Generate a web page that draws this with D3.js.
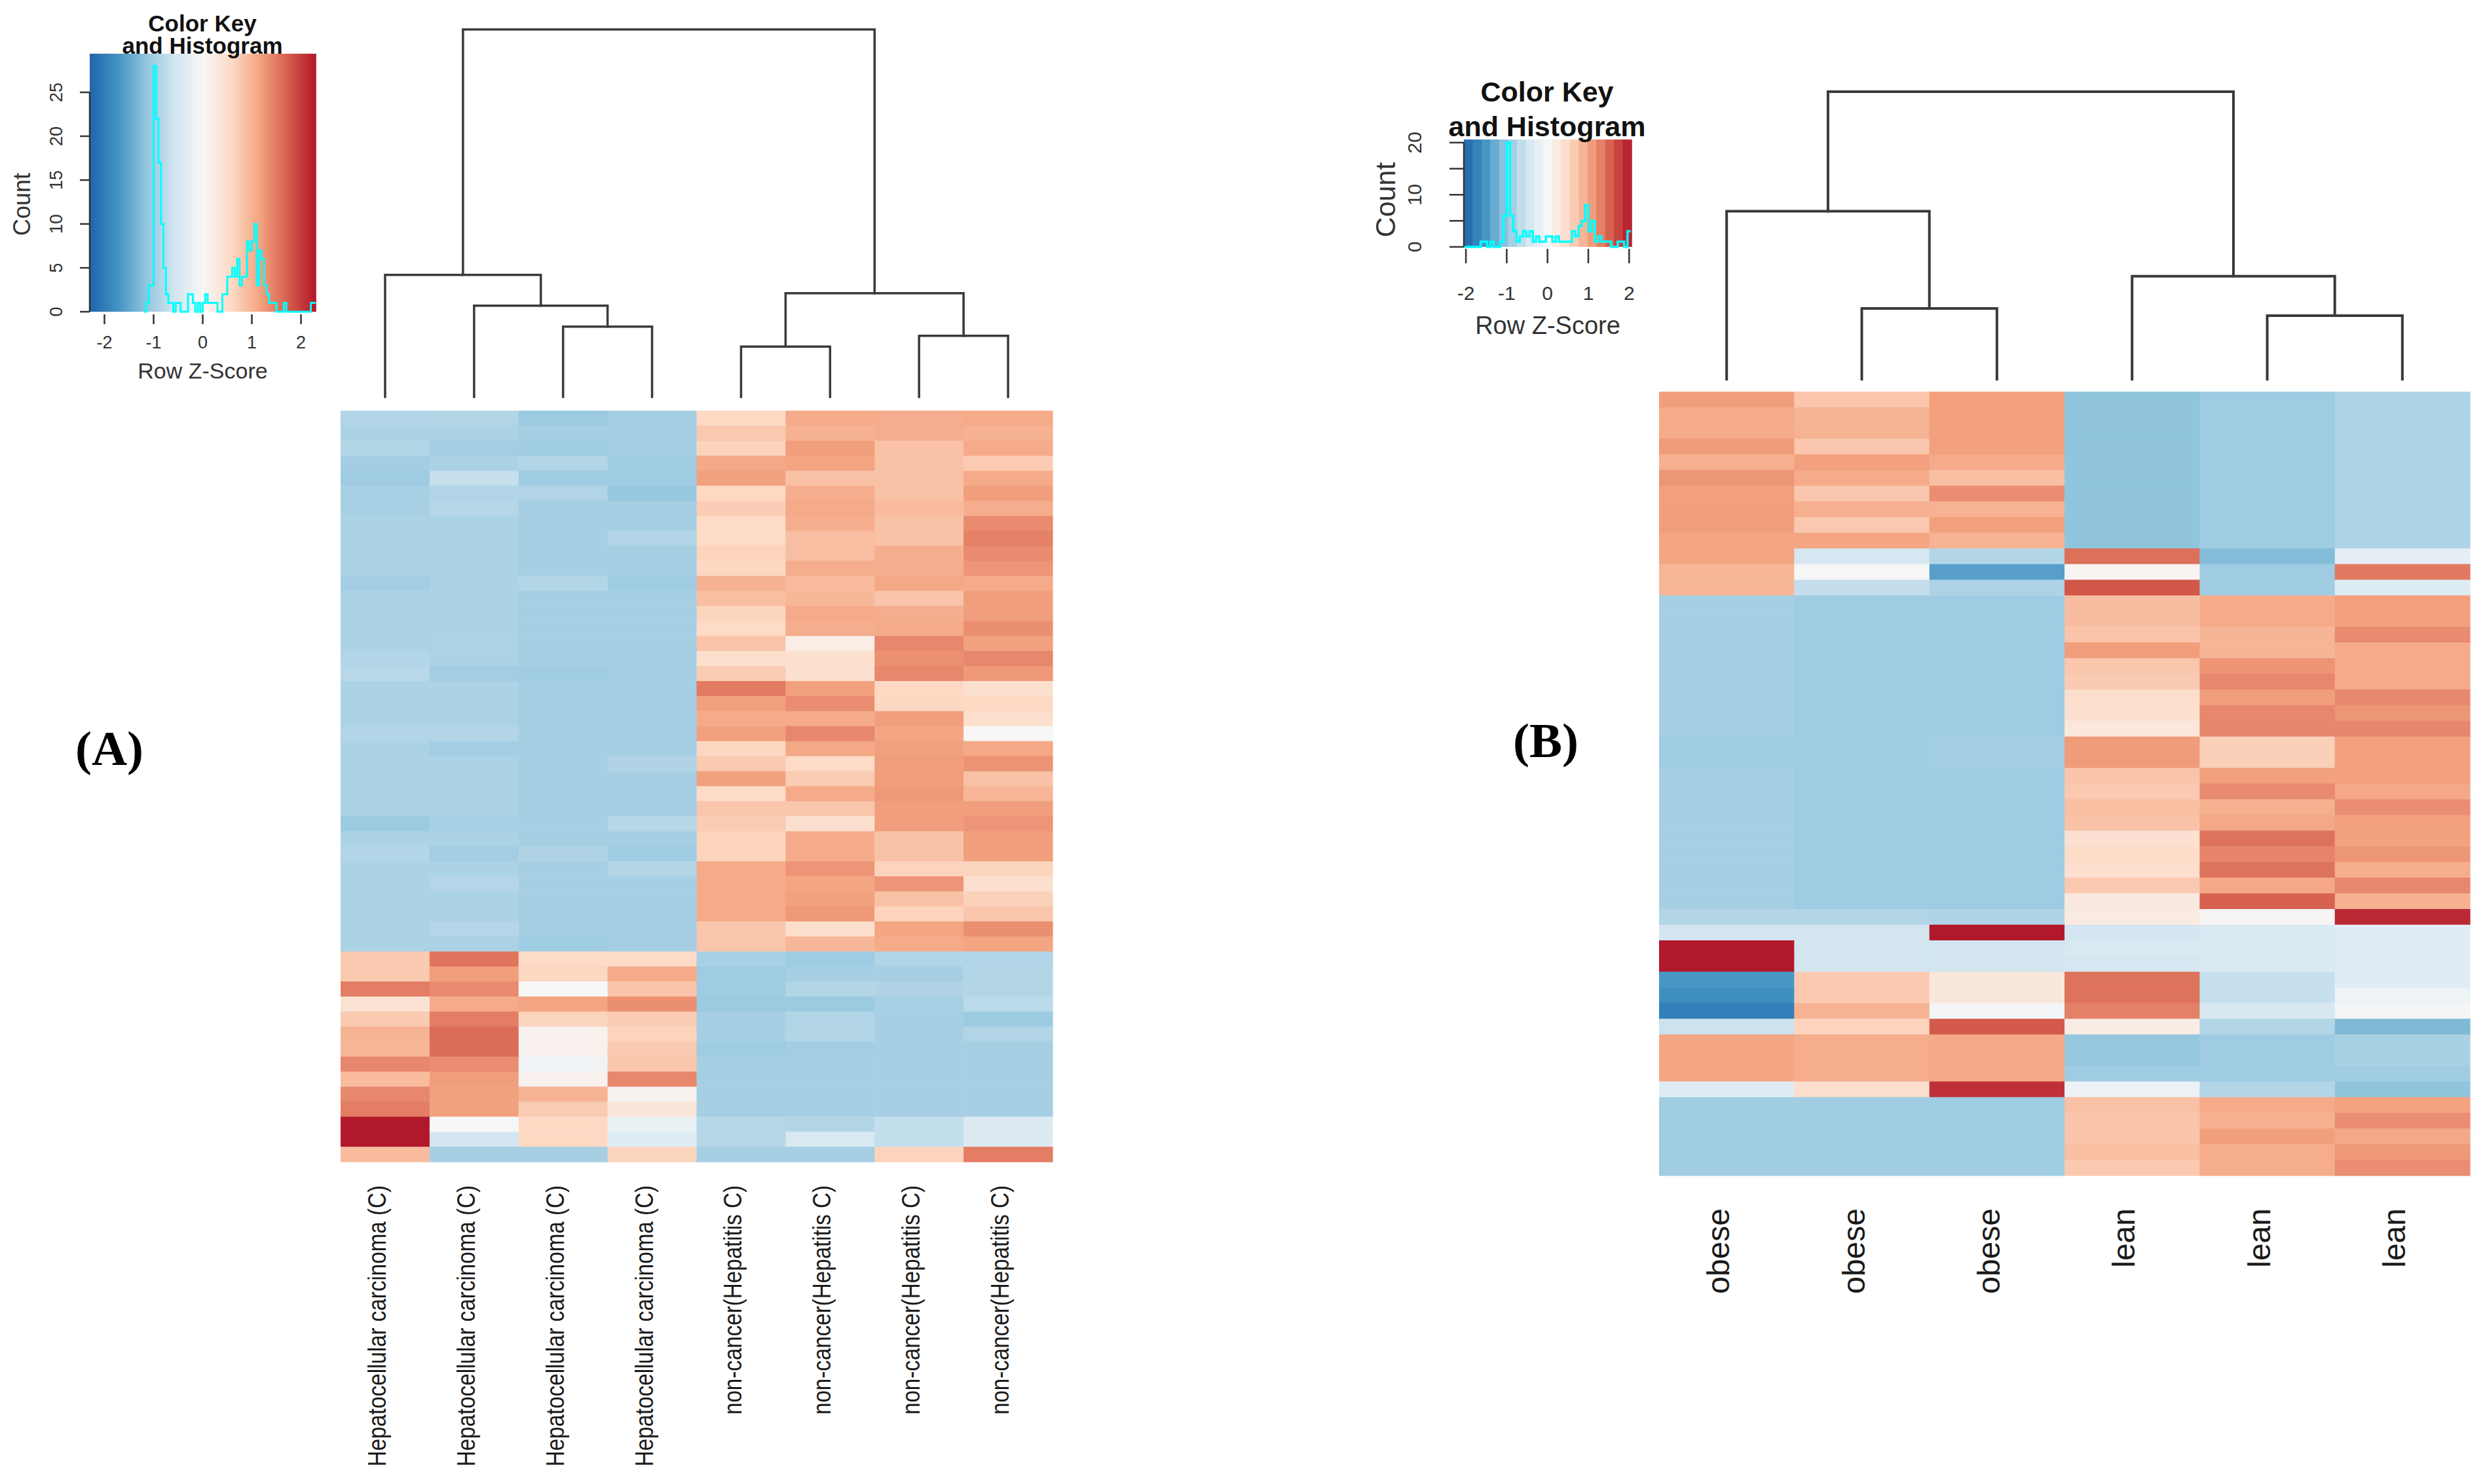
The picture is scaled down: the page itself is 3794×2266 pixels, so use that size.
<!DOCTYPE html>
<html>
<head>
<meta charset="utf-8">
<script src="https://cdn.jsdelivr.net/npm/d3@7"></script>
<style>
  body { margin: 0; background: #fff; }
  text { font-family: "Liberation Sans", Arial, sans-serif; fill: #1a1a1a; }
</style>
</head>
<body>
<div class="canva"></div>
<script>
// ---------------- data ----------------

// panel A columns
const colsA = [
  "Hepatocellular carcinoma (C)", "Hepatocellular carcinoma (C)",
  "Hepatocellular carcinoma (C)", "Hepatocellular carcinoma (C)",
  "non-cancer(Hepatitis C)", "non-cancer(Hepatitis C)",
  "non-cancer(Hepatitis C)", "non-cancer(Hepatitis C)"
];

// panel A row z-scores (50 rows x 8 columns, top to bottom)
const zA = [
  [-0.87,-0.85,-1.06,-0.97, 0.60,1.09,1.06,1.10],
  [-0.92,-0.92,-0.97,-0.97, 0.78,1.02,1.06,1.02],
  [-0.85,-1.00,-1.03,-0.97, 0.66,1.21,0.85,1.09],
  [-1.00,-0.92,-0.85,-1.03, 1.12,1.15,0.85,0.75],
  [-1.03,-0.68,-1.03,-1.03, 1.18,0.85,0.85,1.09],
  [-0.95,-0.87,-0.87,-1.10, 0.60,1.06,0.85,1.21],
  [-0.95,-0.82,-0.97,-0.97, 0.72,1.09,0.92,1.06],
  [-0.92,-0.92,-0.97,-0.97, 0.58,1.06,0.85,1.37],
  [-0.92,-0.92,-0.97,-0.87, 0.58,0.88,0.85,1.45],
  [-0.92,-0.92,-0.97,-0.97, 0.66,0.88,1.06,1.37],
  [-0.92,-0.92,-0.97,-0.97, 0.60,1.06,1.06,1.28],
  [-1.00,-0.92,-0.85,-1.03, 1.02,0.92,1.12,1.09],
  [-0.92,-0.92,-0.97,-0.97, 0.88,0.95,0.82,1.21],
  [-0.92,-0.92,-0.97,-0.97, 0.64,1.09,1.06,1.21],
  [-0.92,-0.92,-0.97,-0.97, 0.58,1.06,1.09,1.33],
  [-0.92,-0.90,-0.97,-0.97, 0.82,0.20,1.40,1.18],
  [-0.86,-0.92,-0.97,-0.97, 0.52,0.45,1.32,1.40],
  [-0.80,-1.00,-1.03,-0.97, 0.74,0.45,1.40,1.25],
  [-0.92,-0.92,-0.97,-0.97, 1.50,1.18,0.60,0.48],
  [-0.92,-0.92,-0.97,-0.97, 1.18,1.35,0.62,0.60],
  [-0.92,-0.92,-0.97,-0.97, 1.09,1.09,1.21,0.50],
  [-0.86,-0.86,-0.97,-0.97, 1.18,1.40,1.15,0.03],
  [-0.92,-1.00,-0.97,-0.97, 0.62,1.12,1.18,1.12],
  [-0.92,-0.92,-0.97,-0.88, 0.76,0.58,1.21,1.30],
  [-0.92,-0.92,-0.97,-0.97, 1.18,0.74,1.21,0.85],
  [-0.92,-0.92,-0.97,-0.97, 0.58,1.09,1.25,0.97],
  [-0.92,-0.92,-0.97,-0.97, 0.80,0.80,1.21,1.21],
  [-1.06,-0.95,-0.97,-0.82, 0.74,0.48,1.21,1.28],
  [-0.92,-0.92,-0.97,-0.97, 0.66,1.09,0.85,1.21],
  [-0.86,-1.00,-0.88,-1.03, 0.66,1.09,0.85,1.21],
  [-0.92,-0.92,-0.97,-0.85, 1.09,1.28,0.66,0.64],
  [-0.92,-0.84,-0.97,-0.97, 1.09,1.15,1.28,0.48],
  [-0.92,-0.92,-0.97,-0.97, 1.09,1.18,0.85,0.68],
  [-0.92,-0.92,-0.97,-0.97, 1.09,1.25,0.66,0.80],
  [-0.92,-0.84,-0.97,-0.97, 0.80,0.50,1.15,1.33],
  [-0.92,-0.92,-1.03,-0.97, 0.80,0.95,1.09,1.15],
  [ 0.76, 1.55, 0.58, 0.58, -0.95,-1.03,-0.87,-0.87],
  [ 0.76, 1.21, 0.62, 1.10, -1.03,-0.97,-0.97,-0.85],
  [ 1.48, 1.37, 0.00, 0.82, -1.03,-0.85,-0.88,-0.85],
  [ 0.42, 1.09, 1.15, 1.33, -1.06,-1.06,-0.95,-0.78],
  [ 0.76, 1.48, 0.64, 0.74, -0.97,-0.87,-0.97,-1.06],
  [ 1.00, 1.62, 0.12, 0.66, -0.97,-0.85,-0.97,-0.87],
  [ 0.97, 1.62, 0.12, 0.76, -1.03,-1.00,-0.97,-0.97],
  [ 1.40, 1.35,-0.10, 0.80, -0.97,-0.97,-0.97,-0.97],
  [ 0.92, 1.21, 0.12, 1.40, -0.97,-0.97,-0.97,-0.97],
  [ 1.40, 1.18, 1.00, 0.10, -0.97,-0.97,-0.97,-0.97],
  [ 1.48, 1.18, 0.74, 0.35, -0.97,-0.97,-0.97,-0.97],
  [ 2.30, 0.00, 0.60,-0.20, -0.82,-0.85,-0.70,-0.40],
  [ 2.30,-0.55, 0.60,-0.35, -0.82,-0.45,-0.70,-0.40],
  [ 0.92,-0.97,-0.97, 0.64, -0.97,-0.97, 0.66, 1.48]
];

// panel A column dendrogram (merge heights, root = 10)
const treeA = { h: 10, children: [
  { h: 3.32, children: [ { leaf: 0 },
    { h: 2.48, children: [ { leaf: 1 },
      { h: 1.91, children: [ { leaf: 2 }, { leaf: 3 } ] } ] } ] },
  { h: 2.82, children: [
    { h: 1.37, children: [ { leaf: 4 }, { leaf: 5 } ] },
    { h: 1.66, children: [ { leaf: 6 }, { leaf: 7 } ] } ] }
] };

// panel A key histogram: counts per bin of width 0.05 starting at -1.2
const histAStart = -1.2;
const histABin = 0.05;
const histACounts = [
  0,1,3,3,28,22,17,10,5,2,1,1,0,1,1,0,0,0,2,2,1,0,1,0,
  1,2,1,1,1,1,0,0,2,2,4,4,5,4,6,3,4,4,8,7,8,10,3,7,6,3,2,1,1,
  1,0,0,0,1,0,0,0,0,0,0,0,0,0,0,1,1
];
const keyAZ = [-2.3, 2.3];
const keyATicksX = [-2, -1, 0, 1, 2];
const keyATicksY = [0, 5, 10, 15, 20, 25];
const keyALabelsY = [0, 5, 10, 15, 20, 25];

// panel B columns
const colsB = ["obese", "obese", "obese", "lean", "lean", "lean"];

// panel B row z-scores (50 rows x 6 columns)
const zB = [
  [ 1.08, 0.71, 1.06, -1.03,-0.92,-0.79],
  [ 0.97, 0.87, 1.06, -1.03,-0.92,-0.79],
  [ 0.97, 0.89, 1.06, -1.03,-0.92,-0.79],
  [ 1.10, 0.70, 1.06, -1.03,-0.92,-0.79],
  [ 0.93, 1.06, 0.97, -1.03,-0.92,-0.79],
  [ 1.14, 0.97, 0.78, -1.03,-0.92,-0.79],
  [ 1.06, 0.70, 1.20, -1.03,-0.92,-0.79],
  [ 1.08, 0.92, 0.90, -1.03,-0.92,-0.79],
  [ 1.08, 0.69, 1.06, -1.03,-0.92,-0.79],
  [ 1.02, 1.02, 0.90, -1.03,-0.92,-0.79],
  [ 1.02,-0.45,-0.76,  1.42,-1.12,-0.25],
  [ 0.86, 0.00,-1.41,  0.05,-0.92, 1.35],
  [ 0.86,-0.62,-0.80,  1.60,-0.90,-0.35],
  [-0.86,-0.92,-0.92,  0.80, 0.97, 1.06],
  [-0.86,-0.92,-0.92,  0.80, 0.97, 1.06],
  [-0.86,-0.92,-0.92,  0.73, 0.87, 1.22],
  [-0.86,-0.92,-0.92,  1.08, 0.87, 0.97],
  [-0.86,-0.92,-0.92,  0.71, 1.15, 0.97],
  [-0.86,-0.92,-0.92,  0.66, 1.25, 0.97],
  [-0.86,-0.92,-0.92,  0.45, 1.08, 1.23],
  [-0.86,-0.92,-0.92,  0.42, 1.25, 1.14],
  [-0.86,-0.92,-0.92,  0.30, 1.25, 1.25],
  [-0.92,-0.92,-0.88,  1.10, 0.62, 1.06],
  [-0.92,-0.92,-0.88,  1.10, 0.62, 1.06],
  [-0.86,-0.92,-0.92,  0.73, 1.06, 1.06],
  [-0.86,-0.92,-0.92,  0.68, 1.22, 1.00],
  [-0.86,-0.92,-0.92,  0.78, 0.92, 1.20],
  [-0.86,-0.92,-0.92,  0.75, 1.00, 1.06],
  [-0.86,-0.92,-0.92,  0.40, 1.40, 1.05],
  [-0.86,-0.92,-0.92,  0.50, 1.27, 1.14],
  [-0.86,-0.92,-0.92,  0.44, 1.40, 0.95],
  [-0.86,-0.92,-0.92,  0.68, 1.00, 1.25],
  [-0.86,-0.92,-0.92,  0.25, 1.52, 0.92],
  [-0.76,-0.76,-0.78,  0.22, 0.03, 1.93],
  [-0.48,-0.48, 2.05, -0.47,-0.38,-0.32],
  [ 2.05,-0.49,-0.49, -0.40,-0.38,-0.32],
  [ 2.05,-0.49,-0.49, -0.45,-0.38,-0.32],
  [-1.50, 0.68, 0.29,  1.40,-0.59,-0.31],
  [-1.60, 0.68, 0.29,  1.40,-0.59,-0.12],
  [-1.76, 0.90,-0.05,  1.30,-0.42,-0.05],
  [-0.55, 0.58, 1.58,  0.20,-0.76,-1.15],
  [ 1.02, 0.95, 0.99, -1.00,-0.92,-0.84],
  [ 1.02, 0.95, 0.99, -1.00,-0.92,-0.84],
  [ 1.02, 0.95, 0.99, -0.92,-0.92,-0.90],
  [-0.31, 0.45, 1.87, -0.15,-0.76,-1.03],
  [-0.90,-0.90,-0.90,  0.77, 0.97, 1.04],
  [-0.90,-0.90,-0.90,  0.73, 0.92, 1.20],
  [-0.90,-0.90,-0.90,  0.73, 1.07, 1.00],
  [-0.90,-0.90,-0.90,  0.79, 0.95, 1.12],
  [-0.90,-0.90,-0.90,  0.68, 0.95, 1.20]
];

// panel B column dendrogram (root = 10)
const treeB = { h: 10, children: [
  { h: 5.84, children: [ { leaf: 0 },
    { h: 2.46, children: [ { leaf: 1 }, { leaf: 2 } ] } ] },
  { h: 3.58, children: [ { leaf: 3 },
    { h: 2.21, children: [ { leaf: 4 }, { leaf: 5 } ] } ] }
] };

// panel B key histogram: counts per bin of width 0.08 starting at -2.04
const histBStart = -2.04;
const histBBin = 0.08;
const histBCounts = [
  0,0,0,0,0,1,1,0,1,0,0,1,6,20,6,3,1,2,3,2,3,1,2,1,1,2,2,1,2,1,
  1,1,1,3,2,4,5,8,3,5,1,2,1,1,1,0,0,1,1,0,3
];
const keyBZ = [-2.05, 2.06];
const keyBTicksX = [-2, -1, 0, 1, 2];
const keyBTicksY = [0, 5, 10, 15, 20];
const keyBLabelsY = [0, 10, 20];

// RdBu palette (blue = low, red = high)
const rdbu = ["#2166ac","#4393c3","#92c5de","#d1e5f0","#f7f7f7",
              "#fddbc7","#f4a582","#d6604d","#b2182b"];

// ---------------- drawing ----------------
const W = 3794, H = 2266;
const svg = d3.select(".canva").append("svg")
  .attr("width", W).attr("height", H)
  .attr("viewBox", `0 0 ${W} ${H}`);
svg.append("rect").attr("width", W).attr("height", H).attr("fill", "#fff");

function colorFor(lim) {
  return d3.scaleLinear()
    .domain(d3.range(rdbu.length).map(i => -lim + i * 2 * lim / (rdbu.length - 1)))
    .range(rdbu)
    .clamp(true);
}

function drawHeatmap(o) {
  const g = svg.append("g");
  const x = d3.scaleBand().domain(d3.range(o.cols.length)).range([o.x0, o.x1]);
  const y = d3.scaleBand().domain(d3.range(o.z.length)).range([o.y0, o.y1]);
  const color = colorFor(o.lim);
  o.z.forEach((row, r) => {
    g.selectAll(null).data(row).enter().append("rect")
      .attr("x", (d, c) => x(c))
      .attr("y", y(r))
      .attr("width", x.bandwidth() + 0.6)
      .attr("height", y.bandwidth() + 0.6)
      .attr("fill", d => color(d));
  });

  // column labels, rotated, reading upward
  g.selectAll("text.col").data(o.cols).enter().append("text")
    .attr("class", "col")
    .attr("transform", (d, i) => `translate(${x(i) + x.bandwidth() / 2 + o.labDx},${o.labY}) rotate(-90)`)
    .attr("text-anchor", "end")
    .style("font-size", o.labSize + "px")
    .text(d => d)
    .each(function () {
      if (o.squeeze) {
        const L = this.getComputedTextLength();
        d3.select(this).attr("textLength", L * o.squeeze).attr("lengthAdjust", "spacingAndGlyphs");
      }
    });
  return x;
}

function drawDendro(tree, x, o) {
  const y = d3.scaleLinear().domain([0, tree.h]).range([o.leafY, o.topY]);
  const root = d3.hierarchy(tree);
  root.eachAfter(n => {
    if (n.data.leaf !== undefined) {
      n.px = x(n.data.leaf) + x.bandwidth() / 2;
      n.hy = 0;
    } else {
      n.px = d3.mean(n.children, c => c.px);
      n.hy = n.data.h;
    }
  });
  const g = svg.append("g")
    .attr("fill", "none").attr("stroke", "#3a3a3a")
    .attr("stroke-width", o.stroke).attr("stroke-linecap", "square");
  root.each(n => {
    if (!n.children) return;
    const [a, b] = n.children;
    g.append("path")
      .attr("d", `M${a.px},${y(a.hy)}V${y(n.hy)}H${b.px}V${y(b.hy)}`);
  });
}

function drawKey(o) {
  const g = svg.append("g");
  const x = d3.scaleLinear().domain(o.zlim).range([o.x0, o.x1]);
  const y = d3.scaleLinear().domain([0, o.ymax]).range([o.y1, o.y0]);
  const color = colorFor(o.lim);

  // colour strip
  const n = o.bands;
  const step = (o.zlim[1] - o.zlim[0]) / n;
  g.selectAll("rect.band").data(d3.range(n)).enter().append("rect")
    .attr("class", "band")
    .attr("x", i => x(o.zlim[0] + i * step))
    .attr("y", o.y0)
    .attr("width", (o.x1 - o.x0) / n + 0.8)
    .attr("height", o.y1 - o.y0)
    .attr("fill", i => color(o.zlim[0] + (i + 0.5) * step));

  // histogram as a step line
  const pts = o.counts.map((c, i) => [o.start + i * o.bin, c]);
  pts.unshift([o.start, 0]);
  pts.push([o.start + o.counts.length * o.bin, o.counts[o.counts.length - 1]]);
  g.append("path")
    .attr("d", d3.line().x(d => x(d[0])).y(d => y(d[1])).curve(d3.curveStepAfter)(pts))
    .attr("fill", "none").attr("stroke", "#00ffff").attr("stroke-width", o.histStroke);

  // x axis
  const ax = g.append("g").attr("stroke", "#333").attr("stroke-width", 2.5);
  ax.selectAll("line").data(o.ticksX).enter().append("line")
    .attr("x1", d => x(d)).attr("x2", d => x(d))
    .attr("y1", o.y1 + o.tickGap).attr("y2", o.y1 + o.tickGap + o.tickLen);
  g.selectAll("text.tx").data(o.ticksX).enter().append("text")
    .attr("class", "tx")
    .attr("x", d => x(d)).attr("y", o.tickLabY)
    .attr("text-anchor", "middle")
    .style("font-size", o.tickSize + "px")
    .style("fill", "#333")
    .text(d => d);

  // y axis
  const ay = g.append("g").attr("stroke", "#333").attr("stroke-width", 2.5);
  ay.append("line")
    .attr("x1", o.x0).attr("x2", o.x0)
    .attr("y1", y(o.ticksY[0])).attr("y2", y(o.ticksY[o.ticksY.length - 1]));
  ay.selectAll("line.t").data(o.ticksY).enter().append("line")
    .attr("class", "t")
    .attr("x1", o.x0 - o.tickLen).attr("x2", o.x0)
    .attr("y1", d => y(d)).attr("y2", d => y(d));
  g.selectAll("text.ty").data(o.labelsY).enter().append("text")
    .attr("class", "ty")
    .attr("transform", d => `translate(${o.yLabX},${y(d)}) rotate(-90)`)
    .attr("text-anchor", "middle")
    .style("font-size", o.tickSize + "px")
    .style("fill", "#333")
    .text(d => d);

  // axis titles
  g.append("text")
    .attr("x", (o.x0 + o.x1) / 2).attr("y", o.xTitleY)
    .attr("text-anchor", "middle")
    .style("font-size", o.titleSize + "px")
    .style("fill", "#333")
    .text("Row Z-Score");
  g.append("text")
    .attr("transform", `translate(${o.countX},${o.countY}) rotate(-90)`)
    .attr("text-anchor", "middle")
    .style("font-size", o.countSize + "px")
    .style("fill", "#333")
    .text("Count");

  // key title (drawn last, over the strip)
  ["Color Key", "and Histogram"].forEach((t, i) => {
    g.append("text")
      .attr("x", o.headX).attr("y", o.headY[i])
      .attr("text-anchor", "middle")
      .style("font-size", o.headSize + "px")
      .style("font-weight", "bold")
      .style("fill", "#111")
      .text(t);
  });
}

// ---- panel A ----
const xA = drawHeatmap({
  cols: colsA, z: zA, lim: 2.3,
  x0: 520, x1: 1607, y0: 627, y1: 1774,
  labY: 1810, labDx: 1, labSize: 39, squeeze: 0.85
});
drawDendro(treeA, xA, { leafY: 606, topY: 45, stroke: 3.5 });
drawKey({
  zlim: keyAZ, lim: 2.3, bands: 240,
  x0: 137, x1: 482, y0: 82, y1: 476, ymax: 29.4,
  counts: histACounts, start: histAStart, bin: histABin, histStroke: 3,
  ticksX: keyATicksX, ticksY: keyATicksY, labelsY: keyALabelsY,
  tickGap: 4, tickLen: 15, tickLabY: 532, tickSize: 27, yLabX: 95,
  xTitleY: 578, titleSize: 34, countX: 46, countY: 312, countSize: 36,
  headX: 309, headY: [48, 82], headSize: 35
});

// ---- panel B ----
const xB = drawHeatmap({
  cols: colsB, z: zB, lim: 2.05,
  x0: 2533, x1: 3771, y0: 598, y1: 1795,
  labY: 1845, labDx: 4, labSize: 48
});
drawDendro(treeB, xB, { leafY: 579, topY: 140, stroke: 4 });
drawKey({
  zlim: keyBZ, lim: 2.05, bands: 19,
  x0: 2235, x1: 2491, y0: 213, y1: 377, ymax: 20.6,
  counts: histBCounts, start: histBStart, bin: histBBin, histStroke: 3.5,
  ticksX: keyBTicksX, ticksY: keyBTicksY, labelsY: keyBLabelsY,
  tickGap: 3, tickLen: 22, tickLabY: 458, tickSize: 30, yLabX: 2170,
  xTitleY: 510, titleSize: 38, countX: 2130, countY: 305, countSize: 43,
  headX: 2362, headY: [155, 208], headSize: 43
});

// panel letters
[["(A)", 167, 1168], ["(B)", 2360, 1156]].forEach(([t, px, py]) => {
  svg.append("text")
    .attr("x", px).attr("y", py)
    .attr("text-anchor", "middle")
    .style("font-family", "'Liberation Serif', 'Times New Roman', serif")
    .style("font-weight", "bold")
    .style("font-size", "75px")
    .style("fill", "#000")
    .text(t);
});
</script>
</body>
</html>
